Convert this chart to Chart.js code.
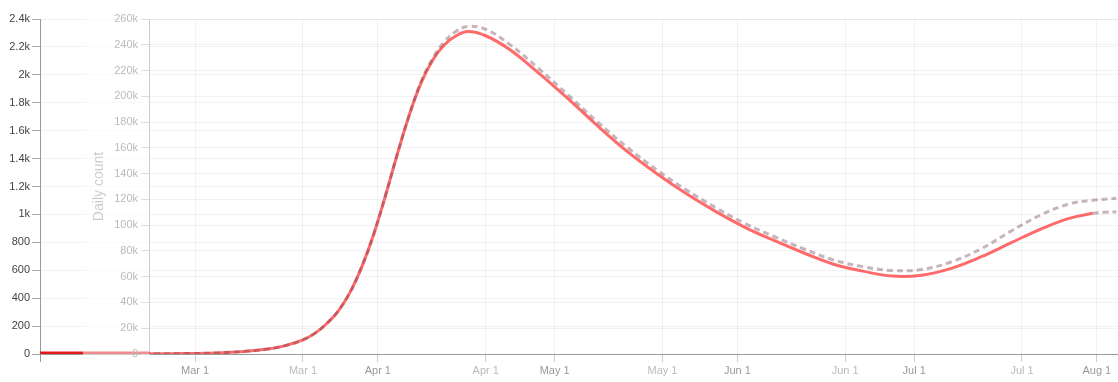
<!DOCTYPE html>
<html>
<head>
<meta charset="utf-8">
<title>Daily count</title>
<script src="https://cdn.jsdelivr.net/npm/chart.js@4.4.1/dist/chart.umd.min.js"></script>
<style>
  html, body { margin: 0; padding: 0; background: #fff; }
  #stage { position: relative; width: 1118px; height: 382px; overflow: hidden; }
  #backBox { position: absolute; left: 0; top: 0; width: 149px; height: 382px; overflow: hidden; }
  #backChart { position: absolute; left: 0; top: 0; }
  #mainChart { position: absolute; left: 83px; top: 0; background: rgba(255, 255, 255, 0.5); }
</style>
</head>
<body>
<div id="stage">
  <div id="backBox"><canvas id="backChart" width="1118" height="382"></canvas></div>
  <canvas id="mainChart" width="1035" height="382"></canvas>
</div>
<script>
// reported daily counts (solid red line)
const reportDates = ['2020-02-03', '2020-02-05', '2020-02-10', '2020-02-15', '2020-02-20', '2020-02-24',
  '2020-02-27', '2020-03-01', '2020-03-03', '2020-03-05', '2020-03-07', '2020-03-09', '2020-03-11',
  '2020-03-13', '2020-03-15', '2020-03-17', '2020-03-19', '2020-03-21', '2020-03-23', '2020-03-25',
  '2020-03-27', '2020-03-29', '2020-04-01', '2020-04-05', '2020-04-10', '2020-04-15', '2020-04-20',
  '2020-04-25', '2020-04-30', '2020-05-05', '2020-05-10', '2020-05-15', '2020-05-20', '2020-05-25',
  '2020-05-30', '2020-06-04', '2020-06-09', '2020-06-14', '2020-06-19', '2020-06-24', '2020-06-29',
  '2020-07-04', '2020-07-09', '2020-07-13'];
const reportCounts = [100, 200, 300, 800, 2000, 3800,
  6500, 11000, 16000, 23500, 33500, 48000, 68000,
  93000, 123000, 155000, 185000, 210000, 228000, 240000,
  247000, 250300, 247000, 236500, 218000, 198000, 177000,
  157300, 140100, 124500, 110700, 98300, 87900, 78400,
  69700, 64300, 60500, 61200, 66500, 75300, 86000,
  96600, 105300, 109200];

// model curve (dashed, whole range)
const modelDates = ['2020-02-03', '2020-02-05', '2020-02-10', '2020-02-15', '2020-02-20', '2020-02-24',
  '2020-02-27', '2020-03-01', '2020-03-03', '2020-03-05', '2020-03-07', '2020-03-09', '2020-03-11',
  '2020-03-13', '2020-03-15', '2020-03-17', '2020-03-19', '2020-03-21', '2020-03-23', '2020-03-25',
  '2020-03-27', '2020-03-29', '2020-04-01', '2020-04-05', '2020-04-10', '2020-04-15', '2020-04-20',
  '2020-04-25', '2020-04-30', '2020-05-05', '2020-05-10', '2020-05-15', '2020-05-20', '2020-05-25',
  '2020-05-30', '2020-06-04', '2020-06-09', '2020-06-14', '2020-06-19', '2020-06-24', '2020-06-29',
  '2020-07-04', '2020-07-09', '2020-07-13', '2020-07-17'];
const modelCounts = [100, 200, 300, 800, 2000, 3800,
  6500, 11000, 16000, 23500, 33500, 48000, 68000,
  93000, 123000, 155000, 185000, 211000, 229500, 242500,
  250500, 254200, 252000, 240500, 221500, 201000, 180000,
  160500, 143000, 127500, 113700, 101300, 91000, 81500,
  73000, 67800, 64800, 65600, 71500, 81500, 95000,
  107500, 116500, 119300, 120800];

// continuation after the last report (dashed)
const forecastDates = ['2020-07-13', '2020-07-15', '2020-07-17'];
const forecastCounts = [109200, 110000, 110400];

// older series drawn on the small scale
const baselineDates = ['2020-02-20', '2020-03-01', '2020-03-12'];
const baselineCounts = [7, 7, 7];

// tick values and labels
const monthDays = [0, 31, 61, 92, 122, 153];
const monthLabels = ['Mar 1', 'Apr 1', 'May 1', 'Jun 1', 'Jul 1', 'Aug 1'];
const countTicks = [0, 20000, 40000, 60000, 80000, 100000, 120000, 140000, 160000, 180000, 200000, 220000, 240000, 260000];
const countLabels = ['0', '20k', '40k', '60k', '80k', '100k', '120k', '140k', '160k', '180k', '200k', '220k', '240k', '260k'];
const smallTicks = [0, 200, 400, 600, 800, 1000, 1200, 1400, 1600, 1800, 2000, 2200, 2400];
const smallLabels = ['0', '200', '400', '600', '800', '1k', '1.2k', '1.4k', '1.6k', '1.8k', '2k', '2.2k', '2.4k'];

// day numbers counted from Mar 1
const origin = Date.UTC(2020, 2, 1);
const toDay = s => (Date.parse(s) - origin) / 86400000;
const points = (dates, counts) => dates.map((d, i) => ({ x: toDay(d), y: counts[i] }));

const greyMin = -26.13, greyMax = 138.29;
const darkMin = greyMin + 18.3, darkMax = greyMax + 18.3;

Chart.defaults.font.family = "'Liberation Sans', Arial, sans-serif";
Chart.defaults.font.size = 11;
Chart.defaults.animation = false;

function monthTicks(scale) {
  scale.ticks = monthDays.filter(v => v >= scale.min && v <= scale.max).map(v => ({ value: v }));
}
function monthLabel(value) {
  return monthLabels[monthDays.indexOf(value)];
}

const gridColor = 'rgba(0, 0, 0, 0.05)';

// chart behind, only its left edge shows
new Chart(document.getElementById('backChart'), {
  type: 'line',
  data: {
    datasets: [{
      data: points(baselineDates, baselineCounts),
      borderColor: '#e3191c',
      borderWidth: 3,
      pointRadius: 0
    }]
  },
  options: {
    responsive: false,
    layout: { padding: { top: 19 } },
    plugins: { legend: { display: false }, tooltip: { enabled: false } },
    scales: {
      x: {
        type: 'linear',
        min: darkMin,
        max: darkMax,
        afterBuildTicks: s => { s.ticks = [{ value: s.min }]; },
        afterFit: s => { s.height = 28; },
        ticks: { color: 'rgba(0,0,0,0)' },
        grid: { color: gridColor, tickColor: '#999' },
        border: { color: '#999' }
      },
      y: {
        min: 0,
        max: 2400,
        afterBuildTicks: s => { s.ticks = smallTicks.map(v => ({ value: v })); },
        afterFit: s => { s.width = 40; },
        ticks: { color: '#444', padding: 2, callback: (v, i) => smallLabels[i] },
        grid: { color: gridColor, tickColor: '#aaa' },
        border: { color: '#999' }
      }
    }
  }
});

new Chart(document.getElementById('mainChart'), {
  type: 'line',
  data: {
    datasets: [
      {
        label: 'Reported',
        data: points(reportDates, reportCounts),
        borderColor: 'rgba(255, 80, 80, 0.85)',
        borderWidth: 3,
        pointRadius: 0,
        tension: 0.4,
        order: 2
      },
      {
        label: 'Model',
        data: points(modelDates, modelCounts),
        borderColor: 'rgba(110, 60, 75, 0.38)',
        borderWidth: 3,
        borderDash: [6, 4],
        pointRadius: 0,
        tension: 0.4,
        order: 1
      },
      {
        label: 'Forecast',
        data: points(forecastDates, forecastCounts),
        borderColor: 'rgba(110, 60, 75, 0.38)',
        borderWidth: 3,
        borderDash: [6, 4],
        pointRadius: 0,
        tension: 0.4,
        order: 1
      }
    ]
  },
  options: {
    responsive: false,
    layout: { padding: { top: 19 } },
    plugins: { legend: { display: false }, tooltip: { enabled: false } },
    scales: {
      x: {
        type: 'linear',
        min: greyMin,
        max: greyMax,
        afterBuildTicks: monthTicks,
        afterFit: s => { s.height = 28; },
        ticks: { color: '#bbb', padding: 2, autoSkip: false, maxRotation: 0, callback: monthLabel },
        grid: { color: gridColor, tickColor: '#ccc' },
        border: { color: '#999' }
      },
      x2: {
        type: 'linear',
        axis: 'x',
        position: { y: 0 },
        min: darkMin,
        max: darkMax,
        afterBuildTicks: monthTicks,
        ticks: { color: '#999', padding: 2, autoSkip: false, maxRotation: 0, callback: monthLabel },
        grid: { color: gridColor, tickColor: '#ccc' },
        border: { display: false }
      },
      y: {
        min: 0,
        max: 260000,
        afterBuildTicks: s => { s.ticks = countTicks.map(v => ({ value: v })); },
        afterFit: s => { s.width = 66; },
        ticks: { color: '#bbb', callback: (v, i) => countLabels[i] },
        title: { display: true, text: 'Daily count', color: '#ccc', font: { size: 14 }, padding: { top: 8, bottom: 2 } },
        grid: { color: gridColor, tickColor: '#ddd' },
        border: { color: '#ccc' }
      },
      y2: {
        axis: 'y',
        position: 'right',
        min: 0,
        max: 2400,
        afterBuildTicks: s => { s.ticks = smallTicks.map(v => ({ value: v })); },
        ticks: { display: false },
        grid: { color: gridColor, drawTicks: false },
        border: { display: false }
      }
    }
  }
});
</script>
</body>
</html>
